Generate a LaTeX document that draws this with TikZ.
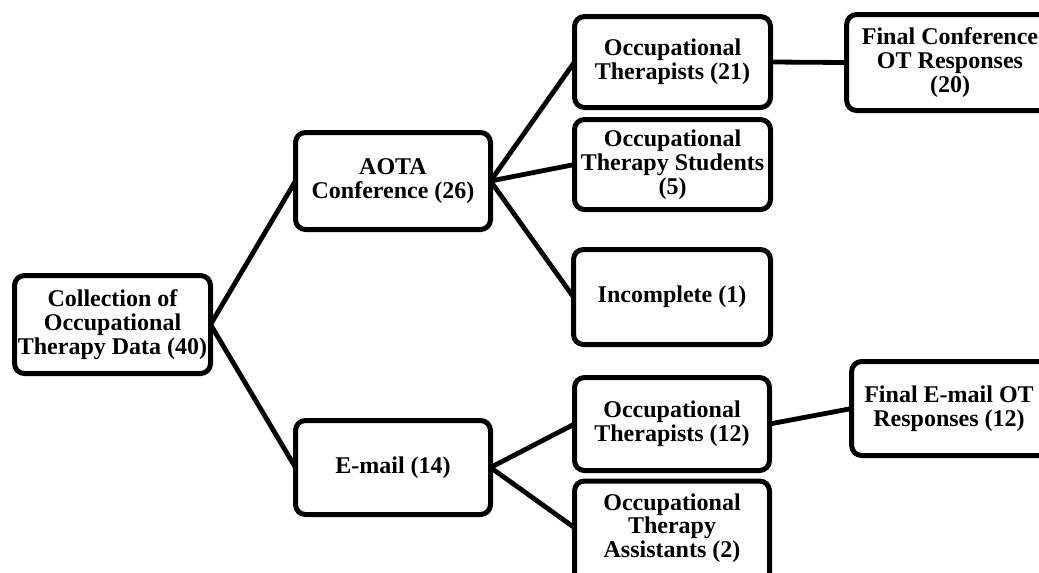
\documentclass[tikz,border=0pt]{standalone}
\usepackage{fontspec}
\setmainfont{Liberation Serif}
\begin{document}
\begin{tikzpicture}[x=0.75pt,y=-0.75pt,
  box/.style={draw=black, line width=3.75pt, rounded corners=7.5pt, fill=white,
    align=center, inner sep=1pt, outer sep=0pt,
    font=\fontsize{18}{17.8}\selectfont\bfseries},
  link/.style={line width=3.6pt}]
\useasboundingbox (0,0) rectangle (1039,572);
\begin{scope}
\clip (0,0) rectangle (1039,572);
\node[box, minimum width=147pt, minimum height=73.5pt] (root) at (112.5,324.5) {Collection of\\Occupational\\Therapy Data (40)};
\node[box, minimum width=146.25pt, minimum height=72.75pt] (aota) at (393,181) {AOTA\\Conference (26)};
\node[box, minimum width=146.25pt, minimum height=70.5pt] (email) at (393,467.5) {E-mail (14)};
\node[box, minimum width=147pt, minimum height=68.25pt] (ot21) at (672.5,62) {Occupational\\Therapists (21)};
\node[box, minimum width=147pt, minimum height=67.5pt] (ots) at (672.5,164.5) {Occupational\\Therapy Students\\(5)};
\node[box, minimum width=147.75pt, minimum height=71.25pt] (inc) at (672,297) {Incomplete (1)};
\node[box, minimum width=146.25pt, minimum height=69.75pt] (ot12) at (672,424) {Occupational\\Therapists (12)};
\node[box, minimum width=146.25pt, minimum height=78pt] (ota) at (672,533) {};
\node[align=center, inner sep=0pt, font=\fontsize{18}{17.8}\selectfont\bfseries] (otatext) at (672,528) {Occupational\\Therapy\\Assistants (2)};
\node[box, minimum width=155pt, minimum height=72pt] (fc) at (950,62.5) {Final Conference\\OT Responses\\(20)};
\node[box, minimum width=152pt, minimum height=70.5pt] (fe) at (953,408.5) {\hspace*{-6pt}Final E-mail OT\\\hspace*{-6pt}Responses (12)};
\draw[link] (root.east) -- (aota.west);
\draw[link] (root.east) -- (email.west);
\draw[link] (aota.east) -- (ot21.west);
\draw[link] (aota.east) -- (ots.west);
\draw[link] (aota.east) -- (inc.west);
\draw[link] (email.east) -- (ot12.west);
\draw[link] (email.east) -- ([yshift=4pt]ota.west);
\draw[link] (ot21.east) -- (fc.west);
\draw[link] (ot12.east) -- (fe.west);
\end{scope}
\end{tikzpicture}
\end{document}
